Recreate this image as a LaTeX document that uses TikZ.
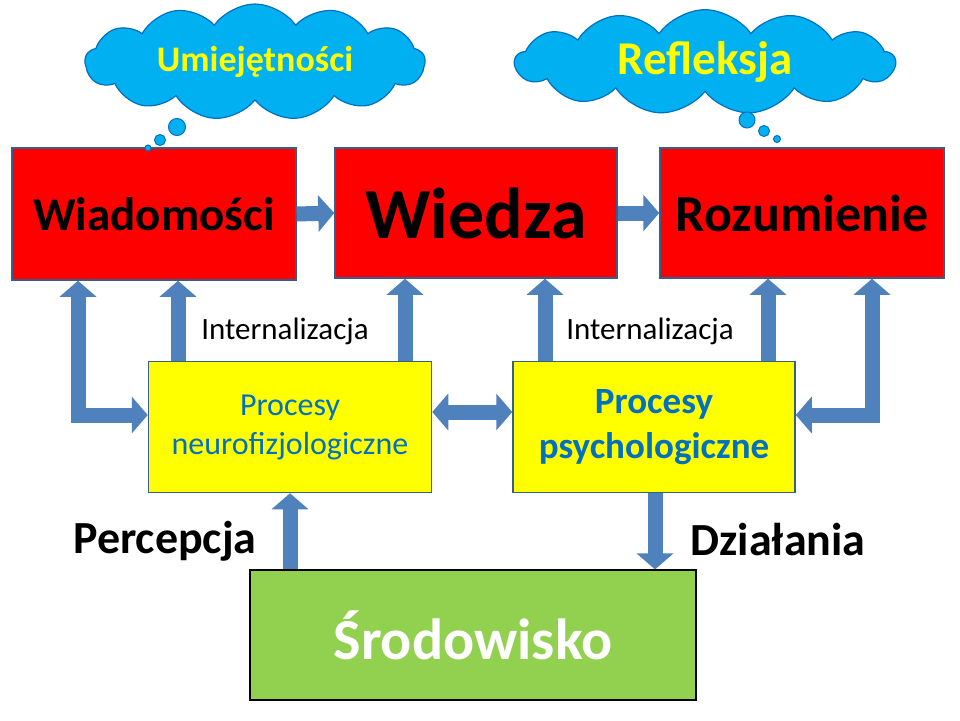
\documentclass[tikz,border=0pt]{standalone}
\usepackage{fontspec}
\setmainfont{Carlito}
\usetikzlibrary{arrows.meta,shapes.symbols}
\definecolor{boxred}{RGB}{255,0,0}
\definecolor{boxyellow}{RGB}{255,255,0}
\definecolor{boxgreen}{RGB}{146,208,80}
\definecolor{arrowblue}{RGB}{79,129,189}
\definecolor{edgeblue}{RGB}{56,93,138}
\definecolor{cloudblue}{RGB}{0,176,240}
\definecolor{textblue}{RGB}{0,112,192}
\tikzset{
  box/.style={draw=edgeblue, line width=1.5pt, inner sep=0pt},
  fat/.style={draw=arrowblue, line width=15pt, -{Triangle[width=36pt,length=16pt]}},
  fatboth/.style={fat, {Triangle[width=36pt,length=16pt]}-{Triangle[width=36pt,length=16pt]}},
  thought/.style={cloud, cloud puffs=13, cloud puff arc=110, aspect=3.5, draw=textblue, line width=1.2pt, fill=cloudblue, inner sep=2pt},
  bubble/.style={circle, draw=textblue, line width=1pt, fill=cloudblue, inner sep=0pt}
}
\begin{document}
\begin{tikzpicture}[x=1pt,y=-1pt]
  \useasboundingbox[fill=white] (0,0) rectangle (960,720);

  % Pola
  \node[box, fill=boxred, minimum width=284pt, minimum height=132pt] (wiad) at (154,214) {\fontsize{47}{56}\selectfont\bfseries Wiadomości};
  \node[box, fill=boxred, minimum width=282pt, minimum height=130pt] (wiedza) at (476,213) {\fontsize{72}{86}\selectfont\bfseries Wiedza};
  \node[box, fill=boxred, minimum width=284pt, minimum height=130pt] (rozum) at (802,213) {\fontsize{52}{62}\selectfont\bfseries Rozumienie};
  \node[box, fill=boxyellow, minimum width=283pt, minimum height=131pt, align=center, text=textblue, font=\fontsize{32}{39}\selectfont] (neuro) at (290,427) {Procesy\\neurofizjologiczne};
  \node[box, fill=boxyellow, minimum width=282pt, minimum height=131pt, align=center, text=textblue, font=\fontsize{37}{45}\selectfont\bfseries] (psych) at (654,427) {Procesy\\psychologiczne};
  \node[box, draw=black, line width=1.2pt, fill=boxgreen, minimum width=446pt, minimum height=130pt, text=white] (srod) at (473,635) {\fontsize{58}{70}\selectfont\bfseries Środowisko};

  % Chmurki
  \node[thought, minimum width=340pt, minimum height=95pt, text=boxyellow, text width=200pt, align=center] (umiej) at (255,62) {\fontsize{36}{43}\selectfont\bfseries Umiejętności};
  \node[bubble, minimum size=17pt] at (177,127) {};
  \node[bubble, minimum size=11pt] at (160,140) {};
  \node[bubble, minimum size=6pt] at (148,148) {};
  \node[thought, minimum width=380pt, minimum height=90pt, text=boxyellow, text width=180pt, align=center] (refl) at (705,62) {\fontsize{47}{56}\selectfont\bfseries Refleksja};
  \node[bubble, minimum size=16pt] at (747,120) {};
  \node[bubble, minimum size=11pt] at (764,131) {};
  \node[bubble, minimum size=7pt] at (777,139) {};

  % Strzalki
  \draw[fat] (wiad.east) -- (wiedza.west);
  \draw[fat] (wiedza.east) -- (rozum.west);
  \draw[fat] (neuro.north -| 178,0) -- (wiad.south -| 178,0);
  \draw[fat] (neuro.north -| 405,0) -- (wiedza.south -| 405,0);
  \draw[fat] (psych.north -| 545,0) -- (wiedza.south -| 545,0);
  \draw[fat] (psych.north -| 768,0) -- (rozum.south -| 768,0);
  \draw[fatboth] (wiad.south -| 78,0) |- (neuro.west |- 0,415);
  \draw[fatboth] (rozum.south -| 872,0) |- (psych.east |- 0,415);
  \draw[fatboth] (neuro.east |- 0,412) -- (psych.west |- 0,412);
  \draw[fat] (srod.north -| 290,0) -- (neuro.south -| 290,0);
  \draw[fat] (psych.south -| 655,0) -- (srod.north -| 655,0);

  % Opisy
  \node (int1) at (285,331) {\fontsize{31}{37}\selectfont Internalizacja};
  \node (int2) at (650,331) {\fontsize{31}{37}\selectfont Internalizacja};
  \node (perc) at (165,541) {\fontsize{46}{55}\selectfont\bfseries Percepcja};
  \node (dzial) at (778,540) {\fontsize{46}{55}\selectfont\bfseries Działania};
\end{tikzpicture}
\end{document}
